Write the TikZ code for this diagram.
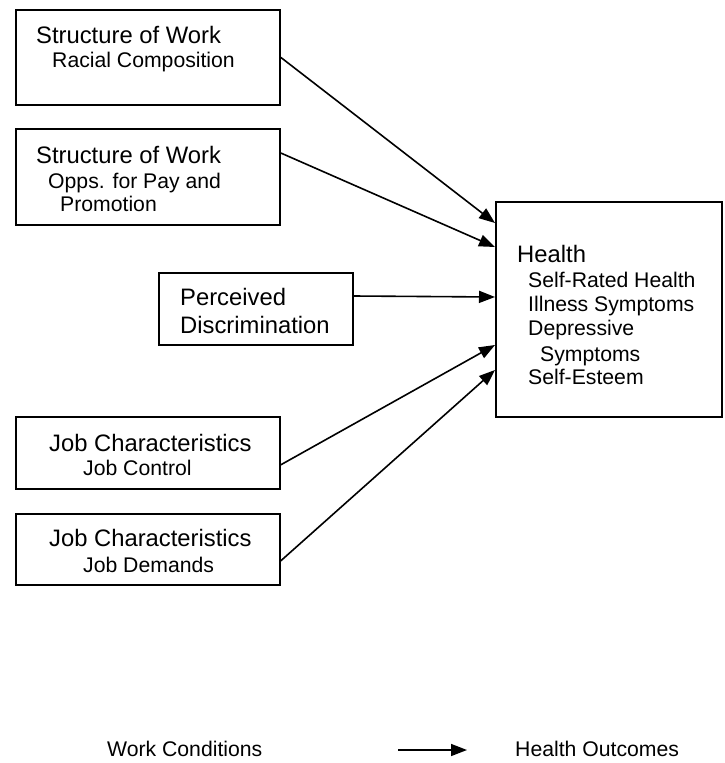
\documentclass[tikz,border=0pt]{standalone}
\usepackage{fontspec}
\setmainfont{Liberation Sans}
\usetikzlibrary{arrows.meta}

\begin{document}
\begin{tikzpicture}[x=1pt,y=-1pt,
  box/.style={draw=black,line width=1.8pt,rectangle,anchor=north west,inner sep=0pt},
  big/.style={anchor=base west,inner sep=0pt,font=\fontsize{23.8}{28}\selectfont},
  small/.style={anchor=base west,inner sep=0pt,font=\fontsize{21.2}{25}\selectfont},
  link/.style={line width=1.6pt,-{Triangle[length=16pt,width=12pt]}}]
\useasboundingbox (0,0) rectangle (724,763);

% boxes
\node[box,minimum width=264pt,minimum height=95pt] (rc) at (15,9) {};
\node[box,minimum width=264pt,minimum height=96pt] (pp) at (15,128) {};
\node[box,minimum width=194pt,minimum height=72pt] (pd) at (158,272) {};
\node[box,minimum width=226pt,minimum height=215pt] (hb) at (495,201) {};
\node[box,minimum width=264pt,minimum height=72pt] (jc) at (15,416) {};
\node[box,minimum width=264pt,minimum height=71pt] (jd) at (15,513) {};

% box texts
\node[big]   (t1a) at (36,43)  {Structure of Work};
\node[small] (t1b) at (52,67)  {Racial Composition};
\node[big]   (t2a) at (36,163) {Structure of Work};
\node[small] (t2b) at (48,188) {Opps. for Pay and};
\node[small] (t2c) at (60,211) {Promotion};
\node[big]   (t3a) at (180,305) {Perceived};
\node[big]   (t3b) at (180,333) {Discrimination};
\node[big]   (h0) at (517,262) {Health};
\node[small] (h1) at (528,287) {Self-Rated Health};
\node[small] (h2) at (528,311) {Illness Symptoms};
\node[small] (h3) at (528,335) {Depressive};
\node[small] (h4) at (540,361) {Symptoms};
\node[small] (h5) at (528,384) {Self-Esteem};
\node[big]   (t4a) at (49,451) {Job Characteristics};
\node[small] (t4b) at (83,475) {Job Control};
\node[big]   (t5a) at (49,546) {Job Characteristics};
\node[small] (t5b) at (83,572) {Job Demands};

% paths into the health box
\draw[link] (rc.east) -- ([yshift=-22pt]hb.north west);
\draw[link] ([yshift=-25pt]pp.north east) -- ([yshift=-46pt]hb.north west);
\draw[link] ([yshift=-24pt]pd.north east) -- ([yshift=-96pt]hb.north west);
\draw[link] ([yshift=25pt]jc.south east) -- ([yshift=-144pt]hb.north west);
\draw[link] ([yshift=25pt]jd.south east) -- ([yshift=-169pt]hb.north west);

% legend
\node[small] (lw) at (107,756) {Work Conditions};
\node[small] (lh) at (515,756) {Health Outcomes};
\coordinate (la) at (398,750);
\coordinate (lb) at (467,750);
\draw[link] (la) -- (lb);
\end{tikzpicture}
\end{document}
